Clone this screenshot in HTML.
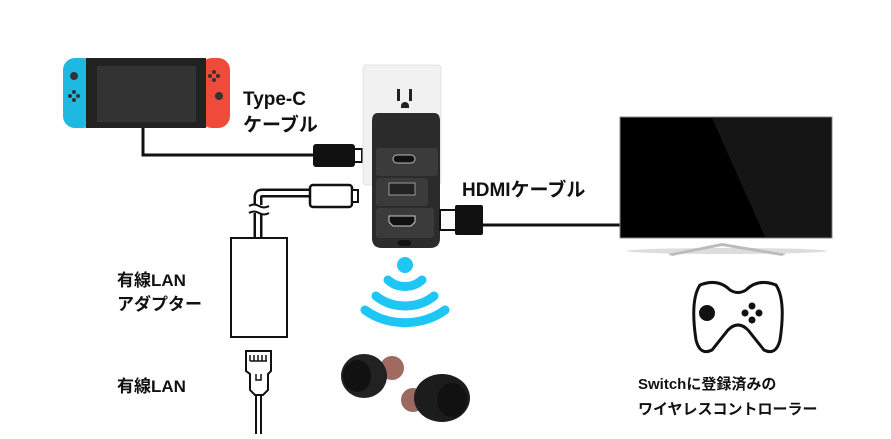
<!DOCTYPE html>
<html><head><meta charset="utf-8"><style>
html,body{margin:0;padding:0;background:#fff;width:891px;height:439px;overflow:hidden}
svg{display:block}
text{font-family:"Liberation Sans","Noto Sans CJK JP",sans-serif;font-weight:bold;fill:#111}
</style></head><body>
<svg width="891" height="439" viewBox="0 0 891 439">
<!-- Switch -->
<rect x="63" y="58" width="32" height="70" rx="12" fill="#1fb8e0"/>
<rect x="200" y="58" width="30" height="70" rx="12" fill="#f04a3a"/>
<rect x="86" y="58" width="120" height="70" fill="#222"/>
<rect x="97" y="66" width="99" height="56" fill="#333"/>
<circle cx="74" cy="76" r="4" fill="#333"/><circle cx="219" cy="96" r="4" fill="#333"/>
<g fill="#333"><circle cx="74" cy="92" r="2"/><circle cx="70" cy="96" r="2"/><circle cx="78" cy="96" r="2"/><circle cx="74" cy="100" r="2"/>
<circle cx="214" cy="72" r="2"/><circle cx="210" cy="76" r="2"/><circle cx="218" cy="76" r="2"/><circle cx="214" cy="80" r="2"/></g>
<!-- Type-C cable -->
<polyline points="143,128 143,155 313,155" fill="none" stroke="#111" stroke-width="3"/>
<rect x="313" y="144" width="42" height="23" rx="3" fill="#111"/>
<rect x="354" y="149" width="8" height="13" fill="#fff" stroke="#111" stroke-width="2"/>
<!-- wall plate -->
<rect x="363" y="65" width="78" height="120" rx="3" fill="#f1f1f1" stroke="#e4e4e4"/>
<rect x="397" y="89" width="3" height="12" fill="#222"/><rect x="409" y="89" width="3" height="12" fill="#222"/>
<path d="M401 106 a4 4 0 0 1 8 0 v2 h-8z" fill="#222"/>
<!-- charger -->
<path d="M378 113 h56 q6 0 6 8 v117 q0 10 -10 10 h-48 q-10 0 -10 -10 v-117 q0 -8 6 -8z" fill="#2b2b2b"/>
<rect x="376" y="148" width="62" height="28" rx="3" fill="#3b3b3b"/>
<rect x="393" y="155" width="22" height="8" rx="4" fill="#111" stroke="#bbb"/>
<rect x="376" y="178" width="52" height="28" rx="3" fill="#3b3b3b"/>
<rect x="389" y="183" width="26" height="12" fill="#222" stroke="#999"/>
<rect x="376" y="208" width="58" height="30" rx="3" fill="#3b3b3b"/>
<path d="M389 216 h26 v6 l-4 4 h-18 l-4 -4z" fill="#111" stroke="#ccc"/>
<rect x="398" y="240" width="13" height="6" rx="3" fill="#111"/>
<!-- white cable -->
<path d="M258 238 V197 Q258 193 262 193 H310" fill="none" stroke="#111" stroke-width="9"/>
<path d="M258 238 V197 Q258 193 262 193 H310" fill="none" stroke="#fff" stroke-width="4"/>
<rect x="250" y="205" width="18" height="8" fill="#fff"/>
<path d="M249 206 q5 -3 10 0 t10 0 M249 213 q5 -3 10 0 t10 0" fill="none" stroke="#111" stroke-width="2"/>
<rect x="310" y="185" width="42" height="22" rx="3" fill="#fff" stroke="#111" stroke-width="2.5"/>
<rect x="352" y="190" width="6" height="12" fill="#fff" stroke="#111" stroke-width="2"/>
<!-- adapter -->
<rect x="231" y="238" width="56" height="99" fill="#fff" stroke="#111" stroke-width="2"/>
<!-- LAN plug -->
<path d="M246 351 h25 v20 l-3 3 v16 l-5 5 h-8 l-5 -5 v-16 l-4 -3z" fill="#fff" stroke="#111" stroke-width="2"/>
<path d="M250 355 v6 M254 355 v6 M258 355 v6 M262 355 v6 M266 355 v6 M250 361 h17 M256 374 v6 h5 v-6" fill="none" stroke="#111" stroke-width="1.5"/>
<path d="M256 395 V434 M261 395 V434" stroke="#111" stroke-width="2"/>
<!-- HDMI -->
<rect x="440" y="210" width="16" height="20" fill="#fff" stroke="#111" stroke-width="2"/>
<rect x="455" y="205" width="28" height="30" rx="2" fill="#111"/>
<line x1="483" y1="225" x2="621" y2="225" stroke="#111" stroke-width="3"/>
<!-- TV -->
<rect x="620" y="117" width="212" height="121" fill="#000" stroke="#888" stroke-width="1"/>
<polygon points="712,118 831,118 831,237 765,237" fill="#151515"/>
<ellipse cx="727" cy="251" rx="100" ry="3" fill="#ddd"/>
<path d="M668 254 L722 243 L786 254 L782 256 L722 246 L672 256z" fill="#bbb"/>
<!-- wifi -->
<g fill="none" stroke="#1ec6f4" stroke-width="9" stroke-linecap="round">
<path d="M388 280 a24 22 0 0 0 34 0"/>
<path d="M376 296 a42 36 0 0 0 58 0"/>
<path d="M365 310 a58 46 0 0 0 80 0"/>
</g>
<circle cx="405" cy="265" r="8" fill="#1ec6f4"/>
<!-- earbuds -->
<circle cx="392" cy="368" r="12" fill="#a06a60"/>
<ellipse cx="364" cy="376" rx="23" ry="22" fill="#222"/><ellipse cx="357" cy="376" rx="14" ry="16" fill="#111"/>
<circle cx="413" cy="400" r="12" fill="#9a6a60"/>
<ellipse cx="442" cy="398" rx="28" ry="24" fill="#1c1c1c"/><ellipse cx="452" cy="400" rx="15" ry="17" fill="#111"/>
<!-- controller -->
<path d="M700 285 Q718 278 730 290 Q738 295 746 290 Q758 278 776 285 Q786 300 780 340 Q776 356 764 350 L748 330 Q738 320 728 330 L712 350 Q700 356 696 340 Q690 300 700 285z" fill="#fff" stroke="#111" stroke-width="3"/>
<circle cx="707" cy="313" r="8" fill="#111"/>
<g fill="#111"><circle cx="752" cy="306" r="3.5"/><circle cx="745" cy="313" r="3.5"/><circle cx="759" cy="313" r="3.5"/><circle cx="752" cy="320" r="3.5"/></g>
<!-- texts -->
<text x="243" y="105" font-size="19">Type-C</text>
<text x="243" y="131" font-size="19">ケーブル</text>
<text x="462" y="196" font-size="19">HDMIケーブル</text>
<text x="117" y="286" font-size="17">有線LAN</text>
<text x="117" y="310" font-size="17">アダプター</text>
<text x="117" y="392" font-size="17">有線LAN</text>
<text x="638" y="389" font-size="15">Switchに登録済みの</text>
<text x="638" y="414" font-size="15">ワイヤレスコントローラー</text>
</svg>
</body></html>
